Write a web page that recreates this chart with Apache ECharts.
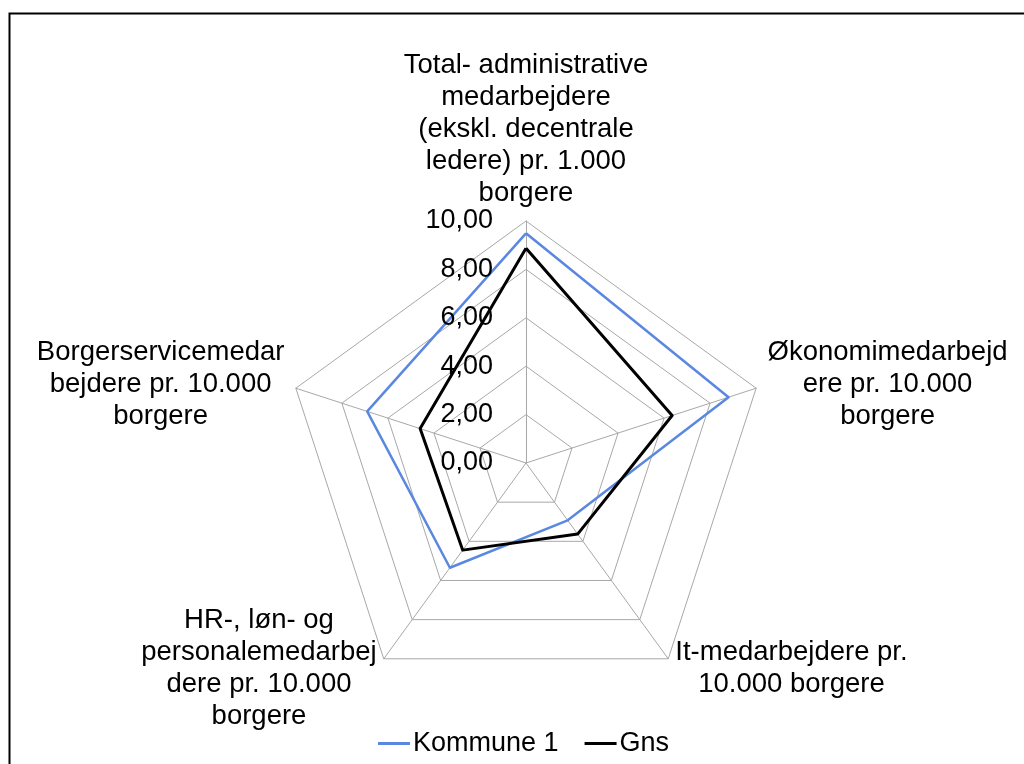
<!DOCTYPE html>
<html>
<head>
<meta charset="utf-8">
<script src="https://cdn.jsdelivr.net/npm/echarts@6/dist/echarts.min.js"></script>
<style>
  html, body { margin: 0; padding: 0; background: #fff; }
  #main { width: 1024px; height: 764px; }
</style>
</head>
<body>
<div id="main"></div>
<script>
// Indicator names, ordered counter-clockwise from the top (echarts default direction)
var indicatorNames = [
    'Total- administrative\nmedarbejdere\n(ekskl. decentrale\nledere) pr. 1.000\nborgere',
    'Borgerservicemedar\nbejdere pr. 10.000\nborgere',
    'HR-, løn- og\npersonalemedarbej\ndere pr. 10.000\nborgere',
    'It-medarbejdere pr.\n10.000 borgere',
    'Økonomimedarbejd\nere pr. 10.000\nborgere'
];
var seriesNames = ['Kommune 1', 'Gns'];
var kommune1 = [9.49, 6.9, 5.35, 2.93, 8.8];
var gns = [8.87, 4.6, 4.45, 3.63, 6.35];
var axisMax = 10;
var tickStep = 2;

var font = '"Liberation Sans", Arial, sans-serif';
var center = [526, 463];
var radius = 242;

var myChart = echarts.init(document.getElementById('main'));

var option = {
    backgroundColor: '#fff',
    textStyle: { fontFamily: font, color: '#000' },
    graphic: [{
        type: 'rect',
        left: 7, top: 11,
        shape: { width: 1030, height: 770 },
        style: { fill: 'none', stroke: '#000', lineWidth: 2 },
        silent: true
    }],
    legend: {
        data: seriesNames,
        left: 373,
        top: 725,
        icon: 'rect',
        itemWidth: 32,
        itemHeight: 3,
        itemGap: 26,
        textStyle: { fontFamily: font, fontSize: 27, color: '#000', padding: [0, 0, 0, -2] }
    },
    radar: {
        center: center,
        radius: radius,
        shape: 'polygon',
        splitNumber: axisMax / tickStep,
        indicator: indicatorNames.map(function (n) { return { name: n, min: 0, max: axisMax }; }),
        nameGap: 12,
        axisName: {
            color: '#000',
            fontFamily: font,
            fontSize: 27.5,
            lineHeight: 32,
            formatter: function (name) {
                return name.split('\n').map(function (l) { return '{c|' + l + '}'; }).join('\n');
            },
            rich: {
                c: { align: 'center', fontFamily: font, fontSize: 27.5, lineHeight: 32, color: '#000' }
            }
        },
        axisLine: { lineStyle: { color: '#a8a8a8', width: 1 } },
        splitLine: { lineStyle: { color: '#a8a8a8', width: 1 } },
        splitArea: { show: false }
    },
    polar: { center: center, radius: radius },
    angleAxis: { show: false, startAngle: 90, min: 0, max: 360 },
    radiusAxis: {
        min: 0,
        max: axisMax,
        interval: tickStep,
        z: 10,
        axisLine: { show: false },
        axisTick: { show: false },
        splitLine: { show: false },
        axisLabel: {
            fontFamily: font,
            fontSize: 27,
            color: '#000',
            margin: 33,
            formatter: function (v) { return v.toFixed(2).replace('.', ','); }
        }
    },
    series: [{
        type: 'radar',
        symbol: 'none',
        data: [
            { name: seriesNames[0], value: kommune1,
              lineStyle: { color: '#5a88e0', width: 2.5 }, itemStyle: { color: '#5a88e0' } },
            { name: seriesNames[1], value: gns,
              lineStyle: { color: '#000', width: 3 }, itemStyle: { color: '#000' } }
        ]
    }]
};

myChart.setOption(option);
</script>
</body>
</html>
